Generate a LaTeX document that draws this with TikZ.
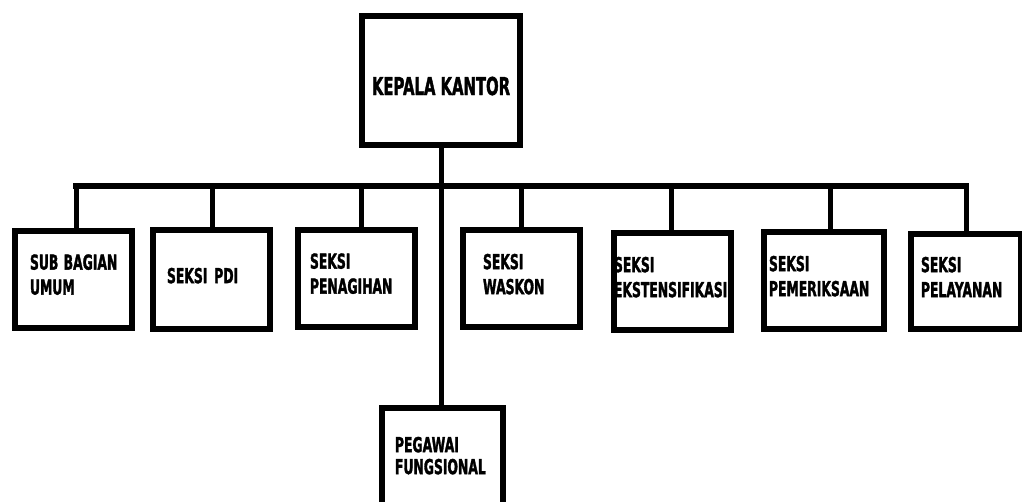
\documentclass[tikz,border=0pt]{standalone}
\usepackage{fontspec}
\newfontfamily\orgfont{DejaVu Sans}[FakeStretch=0.6, FakeBold=1.5]
\begin{document}
\begin{tikzpicture}[x=1pt,y=-1pt,
    unitbox/.style={draw, line width=6pt, minimum width=117pt, minimum height=97pt,
        inner xsep=0pt, text width=#1, align=left, text depth=34pt,
        font=\orgfont\bfseries\fontsize{20.6}{25}\selectfont},
    link/.style={line width=5pt}]
  \useasboundingbox (0,0) rectangle (1022,501);
  \node[draw, line width=6pt, minimum width=158pt, minimum height=129pt,
        text height=29pt, text depth=0pt,
        font=\orgfont\bfseries\fontsize{24.7}{30}\selectfont] (kepala) at (441,80.5) {KEPALA KANTOR};
  % seksi
  \node[unitbox=87pt] (umum) at (73.5,279) {\mbox{SUB\kern-1.5pt\ BAGIAN}\\UMUM};
  \node[unitbox=89pt, minimum height=99pt, text depth=8pt] (pdi) at (211.5,279.5) {\mbox{SEKSI PDI}};
  \node[unitbox=93pt] (penagihan) at (356.5,278) {SEKSI\\PENAGIHAN};
  \node[unitbox=77pt] (waskon) at (521.5,278.5) {SEKSI\\WASKON};
  \node[unitbox=117pt] (ekstensifikasi) at (672.5,281.5) {SEKSI\\EKSTENSIFIKASI};
  \node[unitbox=110pt, minimum width=120pt] (pemeriksaan) at (824,280.5) {SEKSI\\PEMERIKSAAN};
  \node[unitbox=90pt, minimum width=110pt, minimum height=95pt] (pelayanan) at (966,281.5) {SEKSI\\PELAYANAN};
  \node[unitbox=95pt, minimum width=121pt, minimum height=100pt, text depth=27pt,
        font=\orgfont\bfseries\fontsize{20.6}{22}\selectfont] (pegawai) at (442.5,458) {PEGAWAI\\FUNGSIONAL};
  % garis
  \coordinate (bus) at (76,186);
  \draw[link] (kepala.south) -- (kepala.south |- pegawai.north);
  \draw[link, line width=6pt, line cap=rect] (bus) -- (bus -| pelayanan.north);
  \foreach \unit/\dx in {umum/3,pdi/1,penagihan/5,waskon/0,ekstensifikasi/-1,pemeriksaan/6,pelayanan/0} {
    \path ([xshift=\dx pt]\unit.north) coordinate (top);
    \draw[link] (top) -- (top |- bus);
  }
\end{tikzpicture}
\end{document}
